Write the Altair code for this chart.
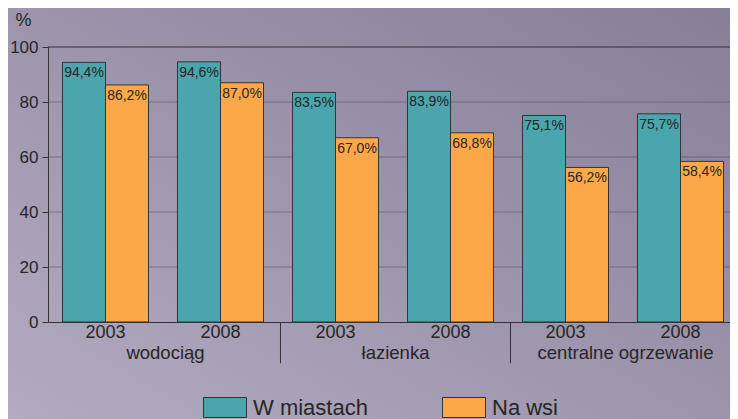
import altair as alt
import pandas as pd

groups = ["wodociąg", "łazienka", "centralne ogrzewanie"]
years = ["2003", "2008"]
series = ["W miastach", "Na wsi"]
miasta = [94.4, 94.6, 83.5, 83.9, 75.1, 75.7]
wies = [86.2, 87.0, 67.0, 68.8, 56.2, 58.4]
y_ticks = [0, 20, 40, 60, 80, 100]
grid_vals = [20, 40, 60, 80]
colors = ["#4aa5ac", "#fca848"]

rows = []
for i in range(6):
    for s, vals in zip(series, [miasta, wies]):
        v = vals[i]
        rows.append({"slot": i, "series": s, "value": v,
                     "label": f"{v:.1f}".replace(".", ",") + "%"})
df = pd.DataFrame(rows)

df_years = pd.DataFrame({"slot": list(range(6)), "year": years * 3})
df_groups = pd.DataFrame({"slot": [0, 2, 4], "group": groups})
df_sep = pd.DataFrame({"slot": [2, 4]})
df_grid = pd.DataFrame({"g": grid_vals})
df_bg = pd.DataFrame({"a": [0]})

W, H = 682, 275
FULL_W = 690
ydom = alt.Scale(domain=[0, 100], nice=False, zero=False)
xscale = alt.Scale(domain=list(range(6)), range=[0, FULL_W],
                   paddingInner=0.252, paddingOuter=0.126)
xoff_scale = alt.Scale(domain=series, paddingInner=0, paddingOuter=0)
FONT = "Liberation Sans, Arial, sans-serif"
INK = "#262626"

yaxis = alt.Axis(values=y_ticks, grid=False, tickSize=6, tickColor="#333333",
                 domainColor="#333333", labelFontSize=17, labelColor=INK,
                 labelFont=FONT, labelPadding=4, zindex=1,
                 title="%", titleAngle=0, titleX=-33, titleY=-22,
                 titleAlign="left", titleBaseline="alphabetic",
                 titleFontSize=18, titleFontWeight="normal", titleFont=FONT,
                 titleColor=INK)
xaxis = alt.Axis(labels=False, ticks=False, title=None, domainColor="#333333",
                 domainWidth=1, zindex=1)

bg = alt.Chart(df_bg).mark_rect(
    color=alt.LinearGradient(
        gradient="linear",
        stops=[alt.GradientStop(color="#b2abc0", offset=0),
               alt.GradientStop(color="#877e98", offset=1)],
        x1=0, y1=1, x2=1, y2=0)
).encode(x=alt.value(-40), x2=alt.value(W), y=alt.value(-39), y2=alt.value(H + 97))

grid = alt.Chart(df_grid).mark_rule(color="#3c3150", opacity=0.2, strokeWidth=2).encode(
    y=alt.Y("g:Q", scale=ydom, axis=yaxis)
)

top_rule = alt.Chart(df_bg).mark_rule(color="#333333", strokeWidth=1).encode(
    y=alt.datum(100, scale=ydom, axis=yaxis)
)

seps = alt.Chart(df_sep).mark_rule(color="#333333", strokeWidth=1, xOffset=-12).encode(
    x=alt.X("slot:O", scale=xscale, bandPosition=0, axis=xaxis),
    y=alt.datum(0, scale=ydom, axis=yaxis),
    y2=alt.datum(-15),
)

bars = alt.Chart(df).mark_bar(stroke="#333333", strokeWidth=1).encode(
    x=alt.X("slot:O", scale=xscale, axis=xaxis),
    xOffset=alt.XOffset("series:N", sort=series, scale=xoff_scale),
    y=alt.Y("value:Q", scale=ydom, axis=yaxis),
    color=alt.Color("series:N", sort=series,
                    scale=alt.Scale(domain=series, range=colors),
                    legend=alt.Legend(title=None, orient="none", legendX=155, legendY=338.5,
                                      direction="horizontal",
                                      symbolType="M-1,-0.465L1,-0.465L1,0.465L-1,0.465Z",
                                      symbolSize=1849, symbolStrokeColor="#333333",
                                      symbolStrokeWidth=1, symbolOpacity=1,
                                      labelFontSize=22, labelFont=FONT, labelColor=INK,
                                      labelOffset=6, columnPadding=72, padding=0,
                                      zindex=1)),
)

bar_labels = alt.Chart(df).mark_text(baseline="top", dy=4, font=FONT, fontSize=14,
                                     color=INK).encode(
    x=alt.X("slot:O", scale=xscale, axis=xaxis),
    xOffset=alt.XOffset("series:N", sort=series, scale=xoff_scale),
    y=alt.Y("value:Q", scale=ydom, axis=yaxis),
    text="label:N",
)

year_labels = alt.Chart(df_years).mark_text(baseline="alphabetic", font=FONT, fontSize=18,
                                            color=INK).encode(
    x=alt.X("slot:O", scale=xscale, axis=xaxis),
    y=alt.datum(-5.8, scale=ydom, axis=yaxis),
    text="year:N",
)

group_labels = alt.Chart(df_groups).mark_text(baseline="alphabetic", font=FONT, fontSize=18.5,
                                              color=INK, dx=60).encode(
    x=alt.X("slot:O", scale=xscale, axis=xaxis),
    y=alt.datum(-13.5, scale=ydom, axis=yaxis),
    text="group:N",
)

chart = alt.layer(bg, grid, seps, bars, bar_labels, year_labels, group_labels, top_rule).properties(
    width=W, height=H,
    padding={"left": 40, "top": 39, "right": 0, "bottom": 97},
    autosize=alt.AutoSizeParams(type="none"),
).configure_view(stroke=None)

chart.save("out.html", embed_options={"renderer": "svg", "actions": False})
